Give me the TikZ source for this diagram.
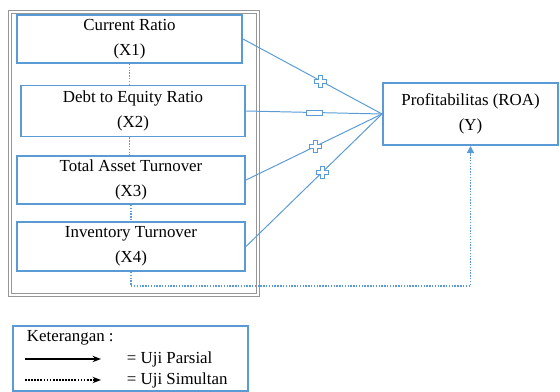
\documentclass[tikz,border=0pt]{standalone}
\usepackage{fontspec}
\setmainfont{Liberation Serif}
\usetikzlibrary{arrows.meta}

\definecolor{linkblue}{RGB}{91,155,213}
\definecolor{framegray}{RGB}{150,150,150}

\tikzset{
  varbox/.style={draw=linkblue, line width=1.4pt, fill=white, align=center,
    inner sep=0pt, font=\fontsize{12}{14}\selectfont},
  parline/.style={draw=linkblue, line width=0.7pt},
  simline/.style={draw=linkblue, densely dotted, line width=1pt},
  plusmark/.pic={
    \draw[draw=linkblue, fill=white, line width=0.5pt]
      (-6,-2) -- (-2,-2) -- (-2,-6) -- (2,-6) -- (2,-2) -- (6,-2)
      -- (6,2) -- (2,2) -- (2,6) -- (-2,6) -- (-2,2) -- (-6,2) -- cycle;
  },
  minusmark/.pic={
    \draw[draw=linkblue, fill=white, line width=0.5pt] (-8,-2.5) rectangle (8,2.5);
  }
}

\begin{document}
\begin{tikzpicture}[x=0.025cm, y=-0.025cm]
  \useasboundingbox (0,0) rectangle (560,392);

  % outer frame round the four variables
  \node (grp) at (134,153.5) [draw=framegray, double=white, double distance=1.2pt,
    line width=0.6pt, minimum width=6.2cm, minimum height=7.075cm] {};

  \node[varbox, minimum width=5.625cm, minimum height=1.2cm] (x1) at (129.5,39)
    {Current Ratio\\[4pt](X1)};
  \node[varbox, minimum width=5.6cm, minimum height=1.275cm] (x2) at (133,111)
    {Debt to Equity Ratio\\[4pt](X2)};
  \node[varbox, minimum width=5.7cm, minimum height=1.2cm] (x3) at (131,180)
    {Total Asset Turnover\\[4pt](X3)};
  \node[varbox, minimum width=5.7cm, minimum height=1.225cm] (x4) at (131,246.5)
    {Inventory Turnover\\[4pt](X4)};

  \node[varbox, minimum width=4.375cm, minimum height=1.55cm] (ypt) at (470.5,114)
    {Profitabilitas (ROA)\\[4pt](Y)};

  % uji simultan
  \draw[simline] (x1.south) -- (x1.south |- x2.north);
  \draw[simline] (x2.south -| x1.south) -- (x3.north -| x1.south);
  \draw[simline] (x3.south) -- (x4.north);
  \draw[simline, -{Triangle[length=5pt, width=5pt]}] (x4.south) -- ++(0,14) -| (ypt.south);

  % uji parsial
  \draw[parline] (x1.east) -- pic[pos=0.56]{plusmark} (ypt.west);
  \draw[parline] (x2.east) -- pic[pos=0.5]{minusmark} (ypt.west);
  \draw[parline] (x3.east) -- pic[pos=0.51]{plusmark} (ypt.west);
  \draw[parline] (x4.east) -- pic[pos=0.56]{plusmark} (ypt.west);

  % legend
  \node (leg) at (130.5,358.5) [draw=linkblue, line width=1pt,
    minimum width=5.875cm, minimum height=1.625cm] {};
  \node[anchor=west, font=\fontsize{12}{14}\selectfont] (ket) at (22,338) {Keterangan :};
  \coordinate (pa) at (25,359);
  \coordinate (pb) at (101,359);
  \coordinate (sa) at (25,380);
  \coordinate (sb) at (101,380);
  \draw[line width=1pt, -{Stealth[length=6pt]}] (pa) -- (pb);
  \draw[line width=1.2pt, densely dotted, -{Stealth[length=6pt]}] (sa) -- (sb);
  \node[anchor=west, font=\fontsize{12}{14}\selectfont] (parsial) at (122,359) {= Uji Parsial};
  \node[anchor=west, font=\fontsize{12}{14}\selectfont] (simultan) at (122,380) {= Uji Simultan};
\end{tikzpicture}
\end{document}
